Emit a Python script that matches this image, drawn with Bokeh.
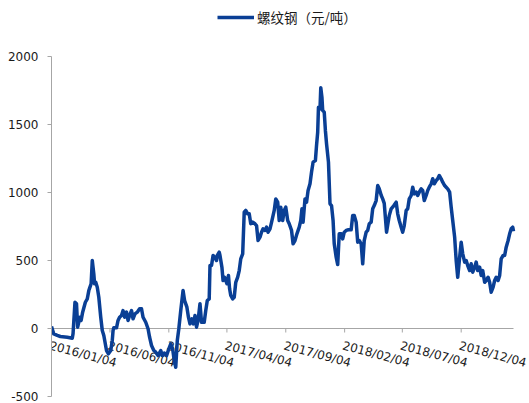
import pandas as pd
from bokeh.plotting import figure
from bokeh.models import Range1d, FixedTicker, Legend, LegendItem, ColumnDataSource
from bokeh.core.properties import value
from bokeh.embed import file_html
from bokeh.resources import INLINE

series_name = "螺纹钢（元/吨）"

dates = [
    "2016-01-04", "2016-01-10", "2016-01-19", "2016-01-27", "2016-02-14", "2016-02-27", "2016-02-29", "2016-03-05",
    "2016-03-09", "2016-03-12", "2016-03-18", "2016-03-21", "2016-03-25", "2016-04-01", "2016-04-06", "2016-04-10",
    "2016-04-13", "2016-04-16", "2016-04-19", "2016-04-23", "2016-04-25", "2016-04-28", "2016-05-02", "2016-05-06",
    "2016-05-11", "2016-05-15", "2016-05-19", "2016-05-26", "2016-05-31", "2016-06-06", "2016-06-10", "2016-06-12",
    "2016-06-14", "2016-06-21", "2016-06-25", "2016-06-29", "2016-07-04", "2016-07-08", "2016-07-12", "2016-07-17",
    "2016-07-21", "2016-07-25", "2016-07-30", "2016-08-03", "2016-08-08", "2016-08-14", "2016-08-20", "2016-08-25",
    "2016-08-29", "2016-09-05", "2016-09-11", "2016-09-15", "2016-09-20", "2016-09-26", "2016-10-01", "2016-10-07",
    "2016-10-14", "2016-10-18", "2016-10-23", "2016-10-29", "2016-11-04", "2016-11-09", "2016-11-14", "2016-11-18",
    "2016-11-22", "2016-11-26", "2016-11-30", "2016-12-05", "2016-12-11", "2016-12-15", "2016-12-21", "2016-12-25",
    "2016-12-29", "2017-01-03", "2017-01-07", "2017-01-11", "2017-01-15", "2017-01-19", "2017-01-24", "2017-01-28",
    "2017-02-04", "2017-02-08", "2017-02-12", "2017-02-17", "2017-02-19", "2017-02-23", "2017-02-27", "2017-03-03",
    "2017-03-08", "2017-03-10", "2017-03-15", "2017-03-17", "2017-03-22", "2017-03-25", "2017-03-29", "2017-04-04",
    "2017-04-08", "2017-04-11", "2017-04-14", "2017-04-19", "2017-04-23", "2017-04-27", "2017-05-02", "2017-05-06",
    "2017-05-10", "2017-05-15", "2017-05-19", "2017-05-23", "2017-05-28", "2017-06-01", "2017-06-05", "2017-06-10",
    "2017-06-16", "2017-06-20", "2017-06-24", "2017-06-29", "2017-07-03", "2017-07-07", "2017-07-12", "2017-07-16",
    "2017-07-20", "2017-07-25", "2017-07-29", "2017-08-05", "2017-08-09", "2017-08-14", "2017-08-18", "2017-08-22",
    "2017-08-27", "2017-08-31", "2017-09-04", "2017-09-09", "2017-09-13", "2017-09-19", "2017-09-23", "2017-09-28",
    "2017-10-03", "2017-10-09", "2017-10-13", "2017-10-16", "2017-10-19", "2017-10-24", "2017-10-28", "2017-11-01",
    "2017-11-06", "2017-11-10", "2017-11-14", "2017-11-20", "2017-11-23", "2017-11-26", "2017-11-28", "2017-12-02",
    "2017-12-04", "2017-12-07", "2017-12-09", "2017-12-13", "2017-12-16", "2017-12-19", "2017-12-24", "2017-12-28",
    "2018-01-01", "2018-01-05", "2018-01-08", "2018-01-13", "2018-01-17", "2018-01-21", "2018-01-26", "2018-01-30",
    "2018-02-03", "2018-02-08", "2018-02-14", "2018-02-21", "2018-02-25", "2018-03-01", "2018-03-06", "2018-03-10",
    "2018-03-14", "2018-03-19", "2018-03-23", "2018-03-27", "2018-04-01", "2018-04-05", "2018-04-09", "2018-04-14",
    "2018-04-18", "2018-04-22", "2018-04-27", "2018-05-01", "2018-05-05", "2018-05-10", "2018-05-14", "2018-05-18",
    "2018-05-24", "2018-05-28", "2018-05-31", "2018-06-05", "2018-06-12", "2018-06-18", "2018-06-22", "2018-06-26",
    "2018-07-01", "2018-07-05", "2018-07-09", "2018-07-14", "2018-07-18", "2018-07-22", "2018-07-27", "2018-07-31",
    "2018-08-04", "2018-08-09", "2018-08-13", "2018-08-17", "2018-08-22", "2018-08-26", "2018-08-30", "2018-09-04",
    "2018-09-08", "2018-09-12", "2018-09-17", "2018-09-21", "2018-09-25", "2018-09-30", "2018-10-04", "2018-10-08",
    "2018-10-13", "2018-10-17", "2018-10-22", "2018-10-26", "2018-10-30", "2018-11-04", "2018-11-08", "2018-11-12",
    "2018-11-17", "2018-11-21", "2018-11-25", "2018-11-30", "2018-12-04", "2018-12-08", "2018-12-13", "2018-12-17",
    "2018-12-21", "2018-12-26", "2018-12-30", "2019-01-03", "2019-01-08", "2019-01-12", "2019-01-16", "2019-01-21",
    "2019-01-25", "2019-01-29", "2019-02-03", "2019-02-07", "2019-02-12", "2019-02-16", "2019-02-20", "2019-02-25",
    "2019-03-01", "2019-03-05", "2019-03-10", "2019-03-14", "2019-03-18", "2019-03-23", "2019-03-27", "2019-03-31",
    "2019-04-05", "2019-04-09", "2019-04-13", "2019-04-17", "2019-04-19",
]

values = [
    15, -40, -51, -59, -64, -71, -39, 193,
    182, 10, 83, 59, 120, 193, 218, 279,
    304, 329, 500, 402, 329, 340, 304, 230,
    83, -15, -51, -162, -186, -162, -88, -15,
    5, 5, 59, 83, 96, 132, 83, 120,
    59, 96, 132, 71, 108, 120, 145, 145,
    83, 46, -2, -64, -125, -162, -174, -199,
    -162, -199, -180, -200, -150, -113, -150, -235,
    -285, -88, -2, 132, 279, 206, 157, 83,
    34, 71, 34, 96, 10, 59, 182, 46,
    46, 132, 206, 218, 463, 463, 537, 524,
    500, 537, 561, 537, 451, 353, 377, 329,
    390, 292, 243, 218, 230, 340, 377, 426,
    512, 549, 855, 868, 843, 843, 770, 782,
    770, 757, 647, 672, 708, 733, 721, 745,
    708, 733, 780, 868, 953, 929, 794, 892,
    794, 868, 892, 794, 770, 721, 623, 647,
    696, 745, 794, 880, 782, 953, 929, 1015,
    1064, 1150, 1223, 1235, 1346, 1443, 1627, 1615,
    1770, 1701, 1603, 1591, 1456, 1358, 1223, 917,
    904, 794, 623, 524, 470, 696, 696, 659,
    708, 721, 726, 726, 831, 831, 782, 635,
    647, 623, 476, 647, 708, 721, 770, 782,
    880, 904, 941, 1051, 1027, 980, 953, 920,
    708, 780, 830, 880, 904, 929, 843, 794,
    745, 708, 757, 868, 880, 953, 978, 1039,
    990, 1002, 978, 1002, 1027, 1015, 941, 978,
    1015, 1039, 1064, 1101, 1064, 1088, 1101, 1125,
    1101, 1076, 1051, 1039, 1027, 1002, 892, 794,
    672, 500, 377, 524, 635, 549, 488, 500,
    463, 426, 476, 414, 451, 488, 426, 451,
    390, 426, 340, 353, 377, 340, 267, 304,
    353, 377, 353, 390, 512, 537, 537, 598,
    647, 696, 733, 745, 715,
]

x_tick_dates = ["2016-01-04", "2016-06-04", "2016-11-04", "2017-04-04",
                "2017-09-04", "2018-02-04", "2018-07-04", "2018-12-04"]
x_tick_labels = ["2016/01/04", "2016/06/04", "2016/11/04", "2017/04/04",
                 "2017/09/04", "2018/02/04", "2018/07/04", "2018/12/04"]
y_ticks = [-500, 0, 500, 1000, 1500, 2000]
y_tick_labels = ["-500", "0", "500", "1000", "1500", "2000"]

LINE_COLOR = "#0a3f95"
AXIS_COLOR = "#a6a6a6"
TEXT_COLOR = "#1a1a1a"

LEFT, TOP, BOTTOM = 51, 8, 7
FRAME_W, FRAME_H = 478, 388
DATA_W = 462            # pixels spanned by the data dates
TOP_GAP = 48            # pixels between frame top and the top tick
PX_PER_UNIT = 340 / (y_ticks[-1] - y_ticks[0])

xd = pd.to_datetime(dates)
x0, x1 = xd[0], xd[-1]
x_end = x0 + (x1 - x0) * (FRAME_W / DATA_W)
y_end = y_ticks[-1] + TOP_GAP / PX_PER_UNIT

p = figure(frame_width=FRAME_W, frame_height=FRAME_H,
           x_axis_type="datetime", x_axis_location=None,
           x_range=Range1d(x0.to_pydatetime(), x_end.to_pydatetime()),
           y_range=Range1d(y_ticks[0], y_end),
           output_backend="svg", toolbar_location=None,
           min_border_left=LEFT, min_border_right=0, min_border_top=TOP, min_border_bottom=BOTTOM)

p.grid.visible = False
p.outline_line_color = None
p.background_fill_color = "white"
p.border_fill_color = "white"

# horizontal date axis drawn at y = 0
p.segment(x0=[x0.to_pydatetime()], y0=[0], x1=[x1.to_pydatetime()], y1=[0],
          line_color=AXIS_COLOR, line_width=1)
td = pd.to_datetime(x_tick_dates)
tick_src = ColumnDataSource(dict(x=list(td.to_pydatetime()), y=[0] * len(td),
                                 y1=[-4 / PX_PER_UNIT] * len(td), label=x_tick_labels))
p.segment(x0="x", y0="y", x1="x", y1="y1", source=tick_src, line_color=AXIS_COLOR, line_width=1)
p.text(x="x", y="y", text="label", source=tick_src, angle=-15, angle_units="deg",
       text_align="left", text_baseline="top", x_offset=0, y_offset=10,
       text_font=value("DejaVu Sans"), text_font_size="12px", text_color=TEXT_COLOR)

src = ColumnDataSource(dict(date=list(xd.to_pydatetime()), value=values))
r = p.line("date", "value", source=src, line_color=LINE_COLOR, line_width=3.5, line_join="round")

ax = p.yaxis[0]
ax.ticker = FixedTicker(ticks=y_ticks)
ax.major_label_overrides = {t: l for t, l in zip(y_ticks, y_tick_labels)}
ax.bounds = (y_ticks[0], y_ticks[-1])
ax.minor_tick_line_color = None
ax.major_tick_in = 0
ax.major_tick_out = 4
ax.axis_line_color = AXIS_COLOR
ax.major_tick_line_color = AXIS_COLOR
ax.major_label_text_font = "DejaVu Sans"
ax.major_label_text_font_size = "12px"
ax.major_label_text_color = TEXT_COLOR
ax.major_label_standoff = 9

legend = Legend(items=[LegendItem(label=series_name, renderers=[r])],
                location=(166, 369), orientation="horizontal",
                glyph_width=37, glyph_height=20, label_height=20, label_standoff=3,
                padding=0, margin=0, spacing=0,
                border_line_color=None, background_fill_alpha=0,
                label_text_font="Noto Sans CJK SC", label_text_font_size="13.5px",
                label_text_color=TEXT_COLOR)
p.add_layout(legend)

open("out.html", "w").write(file_html(p, INLINE))
